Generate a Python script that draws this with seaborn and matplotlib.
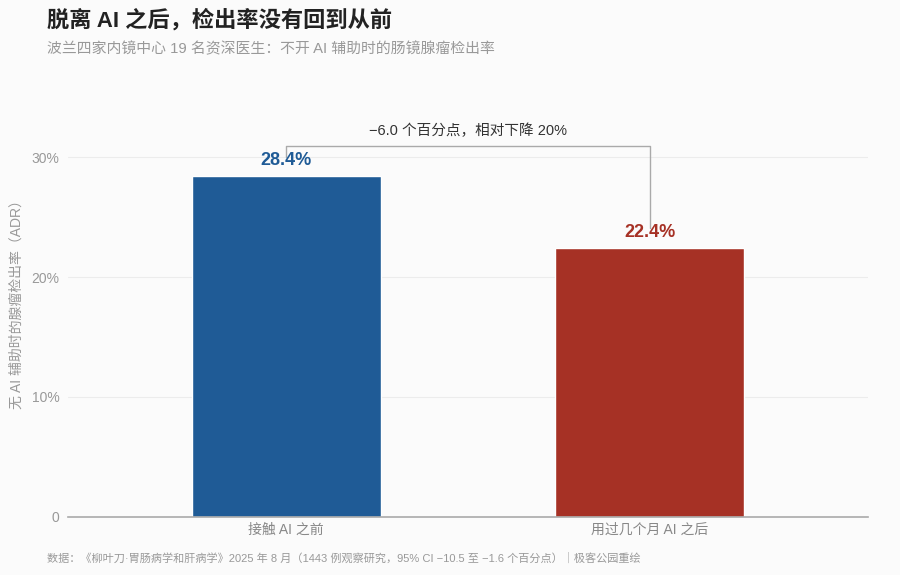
import matplotlib.pyplot as plt
import seaborn as sns
import pandas as pd

sns.set_theme(style="white")
plt.rcParams["font.family"] = ["Liberation Sans", "Noto Sans CJK SC", "DejaVu Sans"]
plt.rcParams["axes.unicode_minus"] = False

# data
categories = ["接触 AI 之前", "用过几个月 AI 之后"]
adr_values = [28.4, 22.4]
bar_colors = ["#1f5b96", "#a63125"]
y_ticks = [0, 10, 20, 30]
y_tick_labels = ["0", "10%", "20%", "30%"]
diff_text = "−6.0 个百分点，相对下降 20%"

df = pd.DataFrame({"阶段": categories, "ADR": adr_values})

bg = "#fbfbfb"
fig = plt.figure(figsize=(9, 5.75), dpi=100, facecolor=bg)
ax = fig.add_axes([0.0756, 0.1009, 0.8888, 0.7095])
ax.set_facecolor(bg)

sns.barplot(data=df, x="阶段", y="ADR", hue="阶段", palette=bar_colors,
            width=0.52, legend=False, ax=ax, saturation=1)

ax.set_xlim(-0.6, 1.6)
ax.set_ylim(0, 34)
ax.set_yticks(y_ticks)
ax.set_yticklabels(y_tick_labels)
ax.yaxis.grid(True, color="#ececec", linewidth=0.8)
ax.set_axisbelow(True)
for s in ["top", "right", "left"]:
    ax.spines[s].set_visible(False)
ax.spines["bottom"].set_color("#aaaaaa")
ax.spines["bottom"].set_linewidth(1.2)
ax.tick_params(axis="both", length=0, labelsize=10, labelcolor="#999999", pad=6)
ax.tick_params(axis="x", pad=4, labelcolor="#888888")
ax.set_xlabel("")
ax.set_ylabel("无 AI 辅助时的腺瘤检出率（ADR）", fontsize=10, color="#999999")
ax.yaxis.set_label_coords(-0.055, 0.53)

# value labels
for i, v in enumerate(adr_values):
    ax.text(i, v + 0.6, f"{v}%", ha="center", va="bottom", fontsize=13,
            fontweight="bold", color=bar_colors[i])

# bracket
bracket_y = 30.9
ax.plot([0, 0, 1, 1], [30.0, bracket_y, bracket_y, adr_values[1] + 1.7],
        color="#aaaaaa", linewidth=1)
ax.text(0.5, bracket_y + 0.7, diff_text, ha="center", va="bottom",
        fontsize=10.5, color="#333333")

fig.text(0.052, 0.965, "脱离 AI 之后，检出率没有回到从前", fontsize=16,
         fontweight="bold", color="#222222", va="center")
fig.text(0.052, 0.915, "波兰四家内镜中心 19 名资深医生：不开 AI 辅助时的肠镜腺瘤检出率",
         fontsize=10.7, color="#999999", va="center")
fig.text(0.052, 0.03,
         "数据：《柳叶刀·胃肠病学和肝病学》2025 年 8 月（1443 例观察研究，95% CI −10.5 至 −1.6 个百分点）｜极客公园重绘",
         fontsize=8, color="#999999", va="center")

fig.savefig("out.png", dpi=100, facecolor=bg)
